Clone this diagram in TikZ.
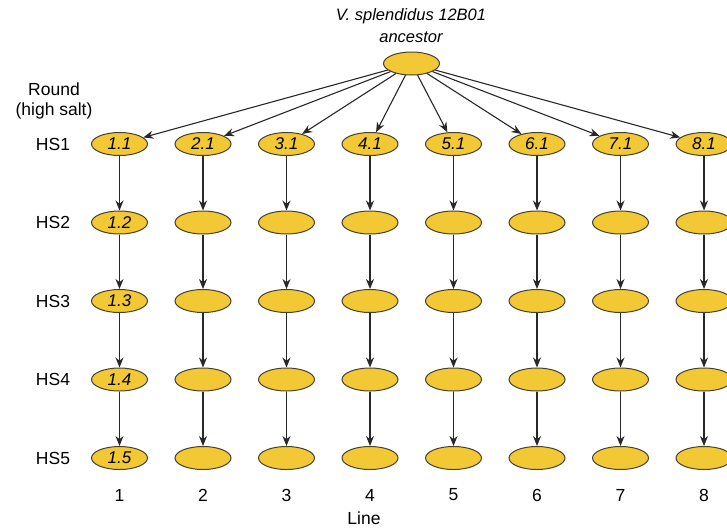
\documentclass[tikz,border=0pt]{standalone}
\usepackage{fontspec}
\setmainfont{Liberation Sans}
\usetikzlibrary{arrows.meta,shapes.geometric}
\definecolor{eggfill}{RGB}{242,200,52}
\definecolor{rim}{RGB}{70,64,50}
\definecolor{wire}{RGB}{40,40,40}
\tikzset{
  egg/.style={ellipse, draw=rim, line width=1pt, fill=eggfill, minimum width=56pt, minimum height=23pt, inner sep=0pt, font=\fontsize{17}{20}\selectfont\itshape},
  link/.style={draw=wire, line width=1.1pt, -{Stealth[length=10pt, width=8pt]}},
  lab/.style={font=\fontsize{17.5}{21}\selectfont, inner sep=0pt}
}
\begin{document}
\begin{tikzpicture}[x=1pt, y=-1pt]
\useasboundingbox (0,0) rectangle (727,531);
\node[lab, font=\fontsize{16.5}{20}\selectfont\itshape] (t1) at (411,16) {V. splendidus 12B01};
\node[lab, font=\fontsize{16.5}{20}\selectfont\itshape] (t2) at (411,37) {ancestor};
\node[egg] (anc) at (411.5,63.5) {};
\node[lab] (rnd) at (54,89) {Round};
\node[lab] (hs) at (54,111) {(high salt)};
\foreach \r/\y in {1/144,2/222.5,3/301,4/379.5,5/458}{
  \node[lab] (h\r) at (53,\y) {HS\r};
}
\foreach \c in {1,...,8}{
  \pgfmathsetmacro{\xx}{119.5+83.5*(\c-1)}
  \node[egg] (n\c-1) at (\xx,144) {\c.1};
  \foreach \r/\y in {2/222.5,3/301,4/379.5,5/458}{
    \node[egg] (n\c-\r) at (\xx,\y) {\ifnum\c=1 1.\r\fi};
  }
  \node[lab] (c\c) at (\xx,495) {\c};
  \draw[link] (anc) -- (n\c-1);
  \draw[link] (n\c-1) -- (n\c-2);
  \draw[link] (n\c-2) -- (n\c-3);
  \draw[link] (n\c-3) -- (n\c-4);
  \draw[link] (n\c-4) -- (n\c-5);
}
\node[lab] (line) at (364,518) {Line};
\end{tikzpicture}
\end{document}
